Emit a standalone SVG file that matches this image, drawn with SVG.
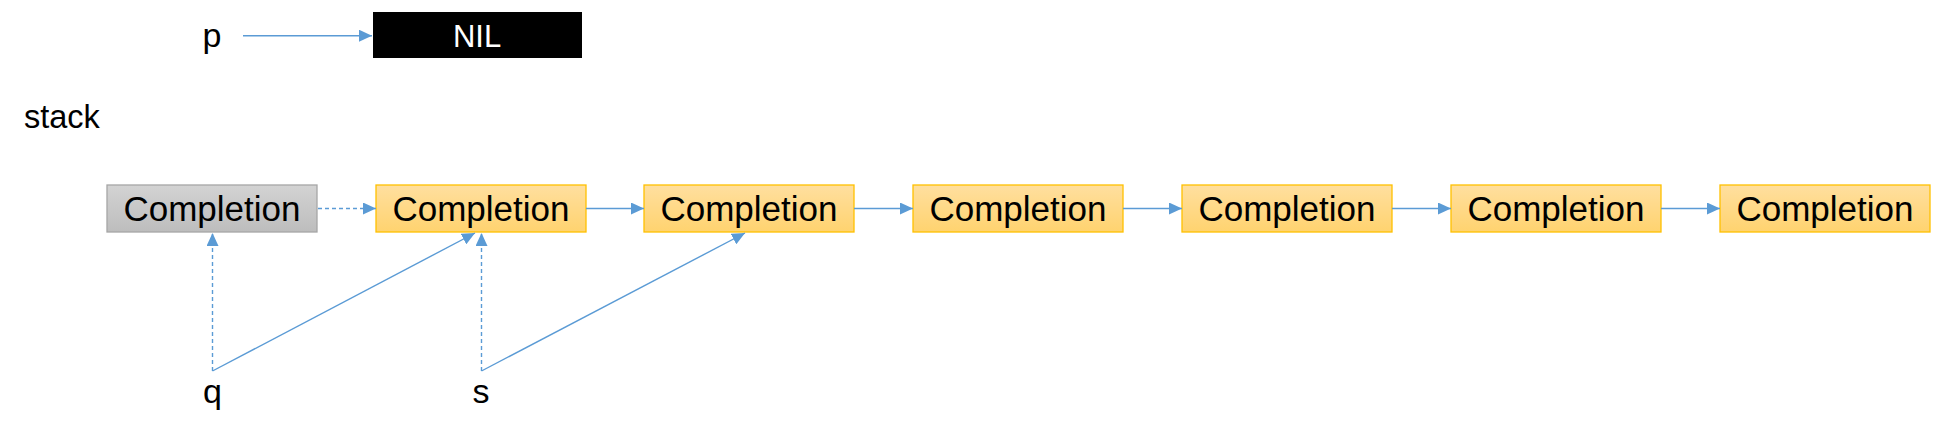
<svg xmlns="http://www.w3.org/2000/svg" width="1936" height="437" viewBox="0 0 1936 437">
<style>
.t{font-family:"Liberation Sans",Arial,sans-serif;fill:#000}
.c{font-size:35px;text-anchor:middle}
.lbl{font-size:34px;text-anchor:middle}
.ln{stroke:#5B9BD5;stroke-width:1.4;fill:none}
.d{stroke-dasharray:4 3}
.ob{fill:url(#gOr);stroke:#FFC000;stroke-width:1.3}
.gb{fill:url(#gGr);stroke:#A6A6A6;stroke-width:1.3}
</style>
<defs>
<linearGradient id="gOr" x1="0" y1="0" x2="0" y2="1"><stop offset="0" stop-color="#FFDF9F"/><stop offset="1" stop-color="#FFD36F"/></linearGradient>
<linearGradient id="gGr" x1="0" y1="0" x2="0" y2="1"><stop offset="0" stop-color="#D3D3D3"/><stop offset="1" stop-color="#BDBDBD"/></linearGradient>
<marker id="arr" viewBox="0 0 13 12" refX="13" refY="6" markerWidth="13" markerHeight="12" markerUnits="userSpaceOnUse" orient="auto"><path d="M0,0 L13,6 L0,12 z" fill="#5B9BD5"/></marker>
</defs>
<rect width="1936" height="437" fill="#fff"/>
<g id="p"><text class="t lbl" x="212" y="47">p</text></g>
<g id="nil"><rect x="373" y="12" width="209" height="46" fill="#000"/><text class="t" x="477" y="47" font-size="31" text-anchor="middle" fill="#fff" style="fill:#fff">NIL</text></g>
<g id="stack"><text class="t" x="24" y="128" font-size="32.5">stack</text></g>
<g id="n0"><rect class="gb" x="107" y="185" width="210" height="47"/><text class="t c" x="212" y="221">Completion</text></g>
<g id="n1"><rect class="ob" x="376" y="185" width="210" height="47"/><text class="t c" x="481" y="221">Completion</text></g>
<g id="n2"><rect class="ob" x="644" y="185" width="210" height="47"/><text class="t c" x="749" y="221">Completion</text></g>
<g id="n3"><rect class="ob" x="913" y="185" width="210" height="47"/><text class="t c" x="1018" y="221">Completion</text></g>
<g id="n4"><rect class="ob" x="1182" y="185" width="210" height="47"/><text class="t c" x="1287" y="221">Completion</text></g>
<g id="n5"><rect class="ob" x="1451" y="185" width="210" height="47"/><text class="t c" x="1556" y="221">Completion</text></g>
<g id="n6"><rect class="ob" x="1720" y="185" width="210" height="47"/><text class="t c" x="1825" y="221">Completion</text></g>
<g id="q"><text class="t lbl" x="212.5" y="403">q</text></g>
<g id="s"><text class="t lbl" x="481" y="403">s</text></g>
<g id="connectors">
<line class="ln" x1="243" y1="35.7" x2="372" y2="35.7" marker-end="url(#arr)"/>
<line class="ln d" x1="318" y1="208.5" x2="376" y2="208.5" marker-end="url(#arr)"/>
<line class="ln" x1="586" y1="208.5" x2="644" y2="208.5" marker-end="url(#arr)"/>
<line class="ln" x1="854" y1="208.5" x2="913" y2="208.5" marker-end="url(#arr)"/>
<line class="ln" x1="1123" y1="208.5" x2="1182" y2="208.5" marker-end="url(#arr)"/>
<line class="ln" x1="1392" y1="208.5" x2="1451" y2="208.5" marker-end="url(#arr)"/>
<line class="ln" x1="1661" y1="208.5" x2="1720" y2="208.5" marker-end="url(#arr)"/>
<line class="ln d" x1="212.5" y1="371" x2="212.5" y2="233" marker-end="url(#arr)"/>
<line class="ln" x1="212.5" y1="371" x2="475" y2="233" marker-end="url(#arr)"/>
<line class="ln d" x1="481.5" y1="371" x2="481.5" y2="233" marker-end="url(#arr)"/>
<line class="ln" x1="481.5" y1="371" x2="745" y2="233" marker-end="url(#arr)"/>
</g>
</svg>
